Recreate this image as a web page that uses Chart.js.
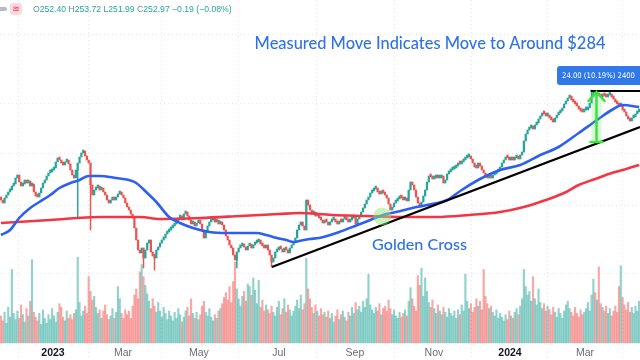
<!DOCTYPE html>
<html>
<head>
<meta charset="utf-8">
<script src="https://cdn.jsdelivr.net/npm/chart.js@4.4.1/dist/chart.umd.min.js"></script>
<style>
  html, body { margin: 0; padding: 0; background: #fff; }
  #wrap { width: 640px; height: 360px; }
</style>
</head>
<body>
<div id="wrap"><canvas id="chart" width="640" height="360"></canvas></div>
<script>
// daily closes, one per trading day (mid Nov 2022 -> mid Apr 2024)
const firstOpen = 201;
const closes = [
  200, 198.5, 201, 202.5, 204, 205, 207, 208, 211, 212.5,
  209, 207, 208, 210, 208.5, 209.5, 207, 208, 204, 202,
  201.5, 203.5, 206, 208.5, 210, 212, 213.5, 214, 215, 216,
  219, 221, 220, 218.5, 217.5, 219, 220, 218, 215, 212.5,
  211, 215, 218.5, 221.5, 223.5, 224.5, 222, 220, 218.5, 207.5,
  202.5, 205, 206, 207, 205, 206, 204, 202.5, 200, 198.5,
  200, 201, 200, 201.5, 203, 204, 202.5, 201, 198.5, 196.5,
  195, 193, 191, 186, 180, 175, 173.5, 176, 171, 175,
  178.5, 180, 174, 172, 171, 175, 176.5, 178.5, 180, 181,
  183, 184, 185, 186, 187, 188, 189, 191, 192, 190,
  193, 194, 192, 190, 188, 189, 187, 188.5, 190, 188,
  185, 181, 184, 187, 189, 190, 191, 189, 190, 188,
  189, 187.5, 185, 182, 180, 177.5, 176, 172.5, 170, 174,
  176, 177, 178, 176.5, 175, 177, 178, 176, 177.5, 178.5,
  179, 180, 178, 177, 176, 177.5, 175, 172.5, 169, 171,
  174, 175, 176.5, 175.5, 174, 176, 175, 173.5, 176, 177.5,
  179, 181, 185, 187.5, 189, 187, 185, 200, 197.5, 195,
  193, 194, 192, 193, 191, 190, 188.5, 189.5, 189, 187.5,
  189, 190, 190.5, 189, 188, 189.5, 189, 190.5, 191.5, 190,
  189, 190, 191, 191.5, 188, 190.5, 192, 194, 196, 198,
  200, 201.5, 203.5, 204.5, 205.5, 206, 204, 203, 204.5, 203.5,
  202.5, 201, 198, 195, 196.5, 198.5, 199.5, 200.5, 201.5, 201,
  200, 200.5, 199.5, 205, 209, 207.5, 205, 201.5, 198.5, 196.5,
  199, 202, 205, 209, 212, 211.5, 210.5, 211, 212, 211,
  211, 212, 208.5, 210, 213, 214, 215, 215.5, 216, 217,
  218.5, 218, 219, 220, 221, 221.5, 222, 220.5, 218.5, 216.5,
  216, 218.5, 217, 215, 213.5, 211.5, 211, 212, 211, 212.5,
  213, 214, 215, 216.5, 218.5, 220, 221.5, 221, 220, 221,
  220, 221, 221.5, 220.5, 222.5, 224, 229.5, 233, 235, 236,
  236.5, 235.5, 237.5, 238.5, 240.5, 242, 243.5, 243, 242, 242.5,
  241, 240, 239, 241, 242.5, 243.5, 244.5, 246, 248, 249.5,
  251, 252, 250, 249, 248, 247, 245.5, 244.5, 244, 245,
  245, 246, 248.5, 251.5, 254, 253, 253.5, 252, 251.5, 252.5,
  252, 251.5, 252.5, 253, 251.5, 250.5, 249, 248, 247, 247.5,
  245, 244, 242, 240.5, 239.5, 241, 241.5, 243, 244, 245
];

// daily volume, millions
const volumes = [
  2.2, 1.8, 2.5, 1.6, 2.9, 2.1, 6.0, 2.4, 1.9, 2.6,
  2.0, 3.1, 2.3, 1.7, 2.8, 2.2, 3.4, 6.8, 2.5, 2.1,
  1.8, 2.4, 1.5, 2.7, 2.0, 1.6, 2.3, 1.9, 2.8, 2.2,
  1.7, 2.5, 3.2, 2.9, 2.1, 1.8, 2.6, 2.0, 2.3, 1.9,
  2.4, 2.7, 7.0, 3.3, 2.2, 2.6, 3.0, 2.4, 5.4, 4.2,
  3.5, 3.8, 2.9, 2.4, 2.7, 2.0, 2.6, 3.1, 2.3, 1.9,
  2.2, 2.8, 2.0, 2.5, 4.6, 3.6, 2.4, 2.0, 2.7, 2.3,
  2.6, 2.0, 3.0, 3.9, 4.4, 3.6, 5.8, 6.4, 5.4, 4.7,
  4.0, 3.4, 2.8, 3.6, 3.0, 2.5, 3.3, 2.6, 2.1, 2.9,
  2.4, 1.9, 2.6, 2.2, 1.8, 2.5, 2.0, 2.8, 2.3, 1.7,
  2.1, 2.6, 2.9, 2.2, 3.6, 2.4, 2.0, 2.5, 1.9, 2.3,
  3.0, 3.4, 2.5, 2.2, 2.8, 2.1, 1.8, 2.3, 2.0, 2.6,
  2.8, 3.2, 3.7, 4.1, 3.5, 4.6, 3.3, 5.0, 6.6, 4.4,
  3.6, 3.0, 3.8, 4.2, 3.4, 4.8, 4.6, 3.9, 5.3, 4.3,
  3.2, 5.1, 2.9, 3.5, 2.6, 3.1, 2.7, 2.4, 3.0, 2.5,
  2.2, 2.9, 3.4, 2.3, 2.8, 3.6, 2.5, 3.1, 2.7, 2.2,
  2.6, 3.0, 3.5, 2.8, 3.9, 2.7, 3.2, 6.9, 4.4, 3.6,
  2.9, 2.4, 3.1, 2.6, 2.2, 2.8, 2.3, 2.5, 2.1, 2.6,
  2.0, 2.4, 1.7, 2.2, 2.7, 1.9, 2.3, 2.6, 2.1, 1.8,
  2.5, 2.2, 2.9, 2.4, 3.3, 2.7, 3.0, 2.5, 3.4, 2.9,
  3.6, 5.6, 3.1, 2.7, 2.4, 2.9, 2.6, 3.2, 2.3, 2.8,
  3.0, 2.6, 3.5, 2.8, 2.3, 2.7, 2.2, 2.0, 2.5, 2.1,
  2.4, 2.7, 2.2, 3.4, 4.5, 3.6, 3.0, 2.6, 5.5, 4.7,
  6.1, 3.8, 5.3, 4.2, 3.3, 2.9, 3.5, 2.8, 2.4, 3.1,
  2.6, 2.3, 2.9, 2.5, 2.1, 2.8, 2.4, 2.2, 2.6, 2.0,
  2.7, 2.3, 3.1, 2.6, 5.6, 3.4, 2.8, 3.2, 2.5, 2.9,
  3.6, 3.0, 3.4, 2.7, 6.0, 3.8, 3.2, 2.8, 3.0, 2.5,
  2.2, 2.7, 2.0, 2.4, 2.1, 1.8, 2.3, 1.9, 2.6, 2.2,
  2.0, 2.5, 2.8, 2.3, 3.0, 3.6, 6.0, 4.6, 3.9, 4.2,
  3.4, 5.4, 3.6, 3.1, 4.4, 3.3, 2.8, 3.2, 2.6, 3.0,
  2.7, 2.3, 2.9, 2.5, 2.1, 2.8, 2.4, 2.0, 2.6, 3.1,
  3.4, 2.8, 2.5, 2.2, 2.9, 2.4, 2.1, 2.7, 2.3, 2.5,
  2.8, 3.3, 2.6, 3.9, 5.2, 4.1, 3.5, 6.2, 3.2, 2.9,
  2.6, 3.0, 2.4, 2.8, 2.2, 2.6, 3.0, 2.5, 4.6, 6.3,
  3.7, 3.1, 2.7, 3.3, 2.5, 2.9, 2.4, 3.0, 2.6, 3.4
];

// the few days with long wicks
const wickDays  = [42, 49, 78, 84, 129, 148, 323];
const wickLows  = [191, 185, 166, 165, 166, 166.5, 251];
const wickHighs = [215, 210, 175, 173, 172, 172, 255];

// 50-day and 200-day moving averages
const sma50Days = [0, 5, 10, 16, 21, 27, 32, 38, 43, 48, 54, 63, 70, 74, 80, 85, 92, 98, 105, 114,
  124, 132, 140, 145, 151, 156, 160, 163, 169, 174, 185, 195, 202, 209, 216, 225, 233, 244, 252, 262,
  273, 284, 295, 305, 316, 326, 334, 340, 349];
const sma50 = [182.5, 185, 191, 196, 199, 202.5, 206, 208.5, 210, 212, 212, 211, 210, 208.5, 203.5, 199, 191.5, 188.5, 186, 184,
  183.5, 183.5, 183.5, 182.5, 181, 180, 179, 179.5, 180.5, 181, 184, 187.5, 190, 192.5, 194, 196, 197.5, 200, 205, 210.5,
  215, 217.5, 222.5, 226.5, 233.5, 240, 245, 247.5, 246.5];
const sma200Days = [0, 27, 54, 76, 87, 109, 131, 152, 163, 181, 200, 218, 238, 256, 273, 286, 298, 308, 316, 325, 334, 342, 349];
const sma200 = [188.5, 190, 191.5, 191.5, 190.5, 191, 192, 193, 193.5, 192.5, 192, 191.5, 191.5, 192.5, 194, 196.5, 200, 203.5, 207.5, 210.5, 213.5, 215.5, 217.5];

// drawn annotations (in day / price units)
const trendDays = [148.2, 349.5];
const trendPrices = [166.5, 236.5];
const capDays = [322.5, 349.5];
const capPrices = [254.5, 254.5];
const moveDay = 325.7;
const moveFrom = 229;
const moveTo = 254.5;
const crossDay = 208.5;
const crossPrice = 191.8;

// axis ticks
const tickDays = [28.5, 66.8, 108.3, 152, 193.6, 236.8, 278.4, 319.4];
const tickLabels = ["2023", "Mar", "May", "Jul", "Sep", "Nov", "2024", "Mar"];
const gridPrices = [282.5, 248, 223.5, 197.5, 163.5];

const UP = "#26a69a";
const DOWN = "#ef5350";

const opens = closes.map((c, i) => (i ? closes[i - 1] : firstOpen));
const isUp = closes.map((c, i) => c >= opens[i]);

function fitFont(ctx, text, width, weight, family) {
  ctx.font = weight + " 20px " + family;
  const size = 20 * width / ctx.measureText(text).width;
  return weight + " " + size.toFixed(2) + "px " + family;
}

const overlay = {
  id: "overlay",
  afterDatasetsDraw(chart) {
    const ctx = chart.ctx;
    const x = chart.scales.x;
    const y = chart.scales.y;
    ctx.save();

    // golden cross marker
    ctx.fillStyle = "rgba(150, 230, 120, 0.5)";
    ctx.beginPath();
    ctx.arc(x.getPixelForValue(crossDay), y.getPixelForValue(crossPrice), 9, 0, Math.PI * 2);
    ctx.fill();

    // measured move arrow
    const mx = x.getPixelForValue(moveDay);
    const top = y.getPixelForValue(moveTo);
    const bot = y.getPixelForValue(moveFrom);
    ctx.fillStyle = "rgba(80, 230, 80, 0.22)";
    ctx.fillRect(mx - 5, top + 8, 10, bot - top - 8);
    ctx.strokeStyle = "#3de23d";
    ctx.lineWidth = 2.5;
    ctx.lineCap = "round";
    ctx.beginPath();
    ctx.moveTo(mx, bot);
    ctx.lineTo(mx, top + 1);
    ctx.moveTo(mx - 8, top + 10);
    ctx.lineTo(mx, top + 1);
    ctx.lineTo(mx + 8, top + 10);
    ctx.moveTo(mx - 6, bot);
    ctx.lineTo(mx + 6, bot);
    ctx.stroke();

    // measure label
    ctx.fillStyle = "#3179e8";
    ctx.beginPath();
    ctx.roundRect(557, 66, 90, 19, 3);
    ctx.fill();
    ctx.fillStyle = "#ffffff";
    const measure = "24.00 (10.19%) 2400";
    ctx.font = fitFont(ctx, measure, 73, "normal", "'DejaVu Sans Condensed', 'Liberation Sans Narrow', 'Liberation Sans', sans-serif");
    ctx.textAlign = "center";
    ctx.textBaseline = "middle";
    ctx.fillText(measure, 598.5, 76);

    // text notes
    ctx.fillStyle = "#2f72e8";
    const title = "Measured Move Indicates Move to Around $284";
    ctx.font = fitFont(ctx, title, 351, "500", "Lato, 'Liberation Sans', sans-serif");
    ctx.fillText(title, 430, 44);
    ctx.font = fitFont(ctx, "Golden Cross", 95, "500", "Lato, 'Liberation Sans', sans-serif");
    ctx.fillText("Golden Cross", 419.5, 245);

    // header line
    ctx.fillStyle = "#b7bac2";
    ctx.beginPath();
    ctx.roundRect(-3, 7, 10, 4, 2);
    ctx.fill();
    ctx.fillStyle = "#fcd9df";
    ctx.beginPath();
    ctx.roundRect(10, 3, 12, 12, 3);
    ctx.fill();
    ctx.fillStyle = "#f23645";
    ctx.font = "9px 'DejaVu Sans', sans-serif";
    ctx.fillText("\u224B", 16, 9.5);

    const parts = [["O", 0], ["252.40", 1], [" H", 0], ["253.72", 1], [" L", 0], ["251.99", 1],
      [" C", 0], ["252.97", 1], [" \u22120.19 (\u22120.08%)", 1]];
    ctx.font = fitFont(ctx, parts.map(p => p[0]).join(""), 199, "normal", "'Liberation Sans', Arial, sans-serif");
    ctx.textAlign = "left";
    let hx = 33;
    parts.forEach(p => {
      ctx.fillStyle = p[1] ? "#26a69a" : "#5f8f8a";
      ctx.fillText(p[0], hx, 9.5);
      hx += ctx.measureText(p[0]).width;
    });

    // time axis labels
    ctx.textAlign = "center";
    tickDays.forEach((d, k) => {
      const isYear = /^\d{4}$/.test(tickLabels[k]);
      ctx.fillStyle = isYear ? "#131722" : "#6a6d78";
      ctx.font = (isYear ? "bold " : "") + "10.5px 'Liberation Sans', Arial, sans-serif";
      ctx.fillText(tickLabels[k], x.getPixelForValue(d), 353);
    });

    ctx.restore();
  }
};

new Chart(document.getElementById("chart"), {
  type: "bar",
  data: {
    datasets: [
      {
        label: "Volume",
        yAxisID: "yv",
        data: volumes.map((v, i) => ({ x: i, y: v })),
        backgroundColor: isUp.map(u => (u ? "rgba(38,166,154,0.5)" : "rgba(239,83,80,0.5)")),
        barThickness: 1.5,
        grouped: false,
        order: 6
      },
      {
        label: "Wicks",
        yAxisID: "y",
        data: wickDays.map((d, k) => ({ x: d, y: [wickLows[k], wickHighs[k]] })),
        backgroundColor: wickDays.map(d => (isUp[d] ? UP : DOWN)),
        barThickness: 0.8,
        grouped: false,
        order: 5
      },
      {
        label: "Price",
        yAxisID: "y",
        data: closes.map((c, i) => ({ x: i, y: [opens[i], c] })),
        backgroundColor: isUp.map(u => (u ? UP : DOWN)),
        barThickness: 1.6,
        minBarLength: 3,
        grouped: false,
        order: 4
      },
      {
        type: "line",
        label: "SMA 200",
        yAxisID: "y",
        data: sma200Days.map((d, k) => ({ x: d, y: sma200[k] })),
        borderColor: "#f23645",
        borderWidth: 2.6,
        pointRadius: 0,
        cubicInterpolationMode: "monotone",
        order: 3
      },
      {
        type: "line",
        label: "SMA 50",
        yAxisID: "y",
        data: sma50Days.map((d, k) => ({ x: d, y: sma50[k] })),
        borderColor: "#2d5ff0",
        borderWidth: 2.6,
        pointRadius: 0,
        cubicInterpolationMode: "monotone",
        order: 2
      },
      {
        type: "line",
        label: "Trend",
        yAxisID: "y",
        data: trendDays.map((d, k) => ({ x: d, y: trendPrices[k] })),
        borderColor: "#000000",
        borderWidth: 2.2,
        pointRadius: 0,
        order: 1
      },
      {
        type: "line",
        label: "High",
        yAxisID: "y",
        data: capDays.map((d, k) => ({ x: d, y: capPrices[k] })),
        borderColor: "#000000",
        borderWidth: 2.2,
        pointRadius: 0,
        order: 1
      }
    ]
  },
  options: {
    responsive: false,
    animation: false,
    devicePixelRatio: 1,
    layout: { padding: 0 },
    plugins: { legend: { display: false }, tooltip: { enabled: false } },
    scales: {
      x: {
        type: "linear",
        min: -0.5,
        max: 349.5,
        offset: false,
        afterBuildTicks: (axis) => { axis.ticks = tickDays.map(v => ({ value: v })); },
        ticks: { display: false },
        grid: { color: "#e3e6ec", drawTicks: false },
        border: { display: false, dash: [1, 3] }
      },
      y: {
        type: "linear",
        position: "right",
        min: 120,
        max: 300,
        afterBuildTicks: (axis) => { axis.ticks = gridPrices.map(v => ({ value: v })); },
        ticks: { display: false },
        grid: { color: "#e3e6ec", drawTicks: false },
        border: { display: false, dash: [1, 3] }
      },
      yv: {
        type: "linear",
        display: false,
        min: -1.4,
        max: 28
      }
    }
  },
  plugins: [overlay]
});
</script>
</body>
</html>
